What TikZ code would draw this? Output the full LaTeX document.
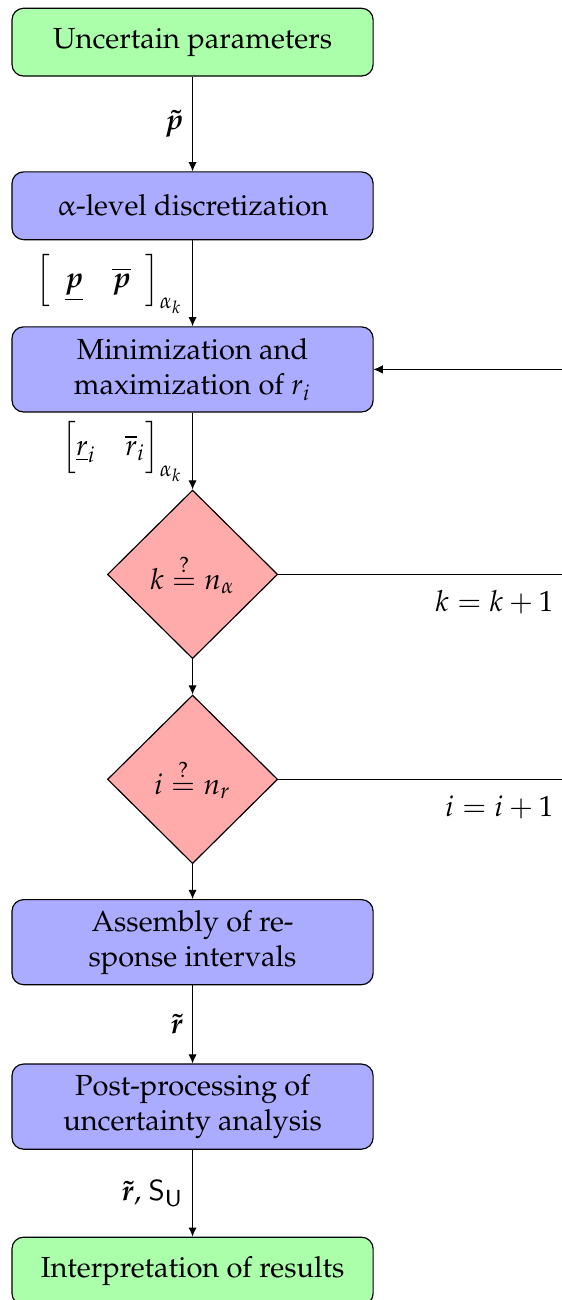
\documentclass[tikz,border=0pt]{standalone}
\usepackage[T1]{fontenc}
\usepackage{amsmath}
\usepackage{mathpazo}
\usepackage{bm}
\usepackage{upgreek}
\usepackage{xcolor}
\usepackage{tikz}
\usetikzlibrary{positioning, arrows.meta, shapes.geometric, calc}
\colorlet{termfill}{green!33}
\colorlet{procfill}{blue!33}
\colorlet{testfill}{red!33}
\tikzset{
  block/.style    ={rectangle, rounded corners=4pt, draw=black, minimum width=4.37cm,
                    inner sep=2pt, minimum height=0.82cm, align=center},
  termblock/.style={block, fill=termfill},
  procblock/.style={block, fill=procfill},
  tallblock/.style={procblock, minimum height=1.03cm},
  testnode/.style ={diamond, aspect=1, draw=black, fill=testfill, inner sep=0pt,
                    minimum width=2.06cm, minimum height=2.04cm},
  arr/.style      ={-{Latex[length=1.1mm, width=1mm]}, thin, color=black},
  flowlabel/.style={left, inner sep=3pt},
}
\begin{document}
\begin{tikzpicture}[x=1cm, y=1cm]
\useasboundingbox (0,0) rectangle (6.8,-15.73);
\clip (0,0) rectangle (6.8,-15.73);
% process chain
\node[termblock] (unc)    at (2.33,-0.51)  {Uncertain parameters};
\node[procblock] (disc)   at (2.33,-2.49)  {$\upalpha$-level discretization};
\node[tallblock] (minmax) at (2.33,-4.47)  {Minimization and\\maximization of $r_i$};
\node[testnode]  (testk)  at (2.33,-6.95)  {$k\stackrel{?}{=}n_\alpha$};
\node[testnode]  (testi)  at (2.33,-9.43)  {$i\stackrel{?}{=}n_r$};
\node[tallblock] (assem)  at (2.33,-11.40) {Assembly of re-\\sponse intervals};
\node[tallblock] (post)   at (2.33,-13.39) {Post-processing of\\uncertainty analysis};
\node[termblock] (interp) at (2.33,-15.38) {Interpretation of results};

\draw[arr] (unc) -- node[flowlabel] {$\bm{\tilde{p}}$} (disc);
\draw[arr] (disc) -- node[flowlabel] {$\Big[\enspace\underline{\bm{p}}\quad\overline{\bm{p}}\enspace\Big]_{\alpha_k}$} (minmax);
\draw[arr] (minmax) -- node[flowlabel] {$\Big[\underline{r}_i\quad\overline{r}_i\Big]_{\alpha_k}$} (testk);
\draw[arr] (testk) -- (testi);
\draw[arr] (testi) -- (assem);
\draw[arr] (assem) -- node[flowlabel] {$\bm{\tilde{r}}$} (post);
\draw[arr] (post) -- node[flowlabel] {$\bm{\tilde{r}}$, $\mathsf{S}_\mathsf{U}$} (interp);

% loops back
\coordinate (kturn) at (7.3,-6.95);
\coordinate (iturn) at (7.6,-9.43);
\draw[arr] (testk.east) -- (kturn) |- (minmax.east);
\draw[arr] (testi.east) -- (iturn) |- (minmax.east);
\node[anchor=north east] (kinc) at (6.82,-7.02) {$k=k+1$};
\node[anchor=north east] (iinc) at (6.82,-9.50) {$i=i+1$};
\end{tikzpicture}
\end{document}
